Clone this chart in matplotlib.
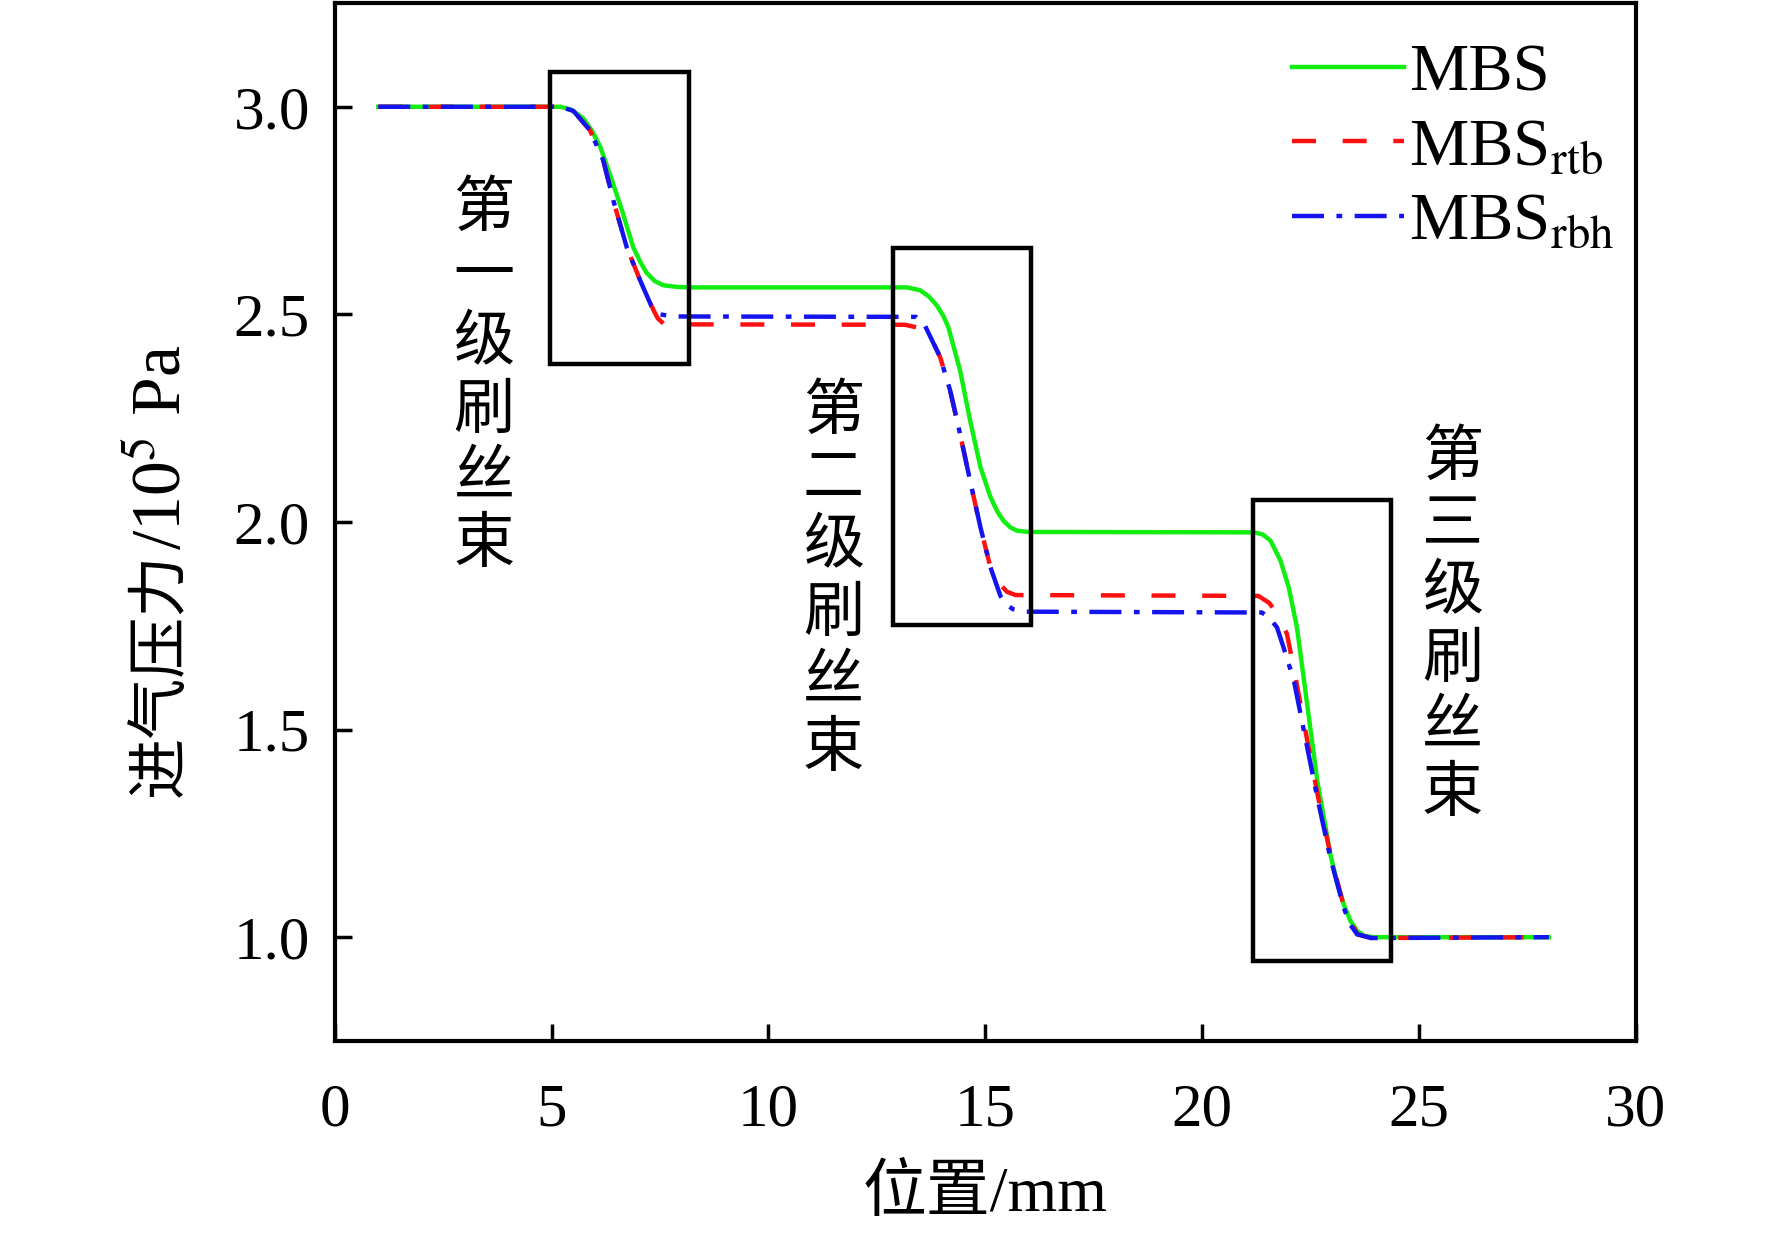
import matplotlib
matplotlib.use('Agg')
import matplotlib.pyplot as plt
from matplotlib.patches import Rectangle

plt.rcParams['font.family'] = ['Liberation Serif', 'Noto Sans CJK SC', 'DejaVu Serif']
plt.rcParams['mathtext.fontset'] = 'stix'

# MBS (green, solid)
mbs_x = [1.0, 5.2, 5.45, 5.73, 5.93, 6.12, 6.39, 6.62, 6.88, 7.05, 7.19, 7.38, 7.58, 7.9, 8.2,
         13.2, 13.5, 13.7, 13.88, 14.03, 14.15, 14.42, 14.65, 14.89, 15.12, 15.28, 15.42, 15.58, 15.73, 16.0,
         21.2, 21.4, 21.58, 21.81, 22.0, 22.19, 22.3, 22.66, 22.96, 23.12, 23.27, 23.42, 23.58, 23.75, 23.96, 28.0]
mbs_y = [3.0, 3.0, 2.993, 2.972, 2.942, 2.904, 2.823, 2.751, 2.662, 2.625, 2.600, 2.580, 2.570, 2.566, 2.565,
         2.565, 2.558, 2.543, 2.522, 2.497, 2.469, 2.365, 2.245, 2.132, 2.06, 2.025, 2.003, 1.987, 1.979, 1.976,
         1.975, 1.970, 1.955, 1.907, 1.843, 1.746, 1.66, 1.376, 1.20, 1.13, 1.079, 1.04, 1.015, 1.003, 1.0, 1.0]

# MBS_rtb (red, dashed)
rtb_x = [1.0, 5.2, 5.5, 5.88, 6.19, 6.42, 6.73, 7.04, 7.35, 7.45, 7.6,
         13.15, 13.45, 13.69, 13.96, 14.19, 14.42, 14.65, 14.89, 15.12, 15.3, 15.5, 15.7,
         21.3, 21.55, 21.77, 21.96, 22.15, 22.38, 22.68, 22.98, 23.28, 23.58, 23.9, 28.0]
rtb_y = [3.0, 3.0, 2.99, 2.944, 2.871, 2.775, 2.662, 2.582, 2.51, 2.49, 2.476,
         2.475, 2.468, 2.457, 2.397, 2.317, 2.212, 2.10, 1.987, 1.891, 1.855, 1.832, 1.824,
         1.822, 1.805, 1.774, 1.73, 1.63, 1.50, 1.336, 1.191, 1.071, 1.007, 0.998, 1.0]

# MBS_rbh (blue, dash-dot)
rbh_x = [1.0, 5.2, 5.5, 5.88, 6.19, 6.42, 6.73, 7.04, 7.3, 7.5, 7.8,
         13.4, 13.6, 13.96, 14.19, 14.42, 14.65, 14.89, 15.12, 15.35, 15.5, 15.64, 15.9,
         21.38, 21.55, 21.73, 21.88, 22.12, 22.35, 22.66, 22.96, 23.27, 23.42, 23.58, 23.9, 28.0]
rbh_y = [3.0, 3.0, 2.99, 2.944, 2.871, 2.775, 2.662, 2.582, 2.52, 2.50, 2.495,
         2.494, 2.475, 2.397, 2.317, 2.212, 2.10, 1.987, 1.891, 1.822, 1.80, 1.79, 1.784,
         1.782, 1.77, 1.746, 1.698, 1.618, 1.497, 1.336, 1.191, 1.071, 1.03, 1.007, 0.998, 1.0]

labels = ['MBS', r'MBS$_{\mathrm{rtb}}$', r'MBS$_{\mathrm{rbh}}$']
stage_texts = ['第一级刷丝束', '第二级刷丝束', '第三级刷丝束']
x_ticks = [0, 5, 10, 15, 20, 25, 30]
y_ticks = [1.0, 1.5, 2.0, 2.5, 3.0]

# boxes around each brush stage: (x0, y0, x1, y1)
boxes = [(4.96, 2.381, 8.16, 3.084), (12.88, 1.753, 16.06, 2.659), (21.17, 0.942, 24.37, 2.052)]
text_pos = [(3.44, 2.35), (11.5, 1.86), (25.78, 1.75)]

fig = plt.figure(figsize=(17.72, 12.34), dpi=100)
ax = fig.add_axes([0.189, 0.1564, 0.734, 0.8412])

lw = 3.2
ax.plot(mbs_x, mbs_y, color='#12ee12', lw=lw, ls='-', label=labels[0])
ax.plot(rtb_x, rtb_y, color='#ff1010', lw=lw, ls=(0, (5.4, 6.0)), label=labels[1])
ax.plot(rbh_x, rbh_y, color='#1414f0', lw=lw, ls=(0, (7.2, 2.8, 1.3, 2.8)), label=labels[2])

for x0, y0, x1, y1 in boxes:
    ax.add_patch(Rectangle((x0, y0), x1 - x0, y1 - y0, fill=False, ec='black', lw=3.2, zorder=5))

for (tx, ty), s in zip(text_pos, stage_texts):
    ax.text(tx, ty, '\n'.join(s), ha='center', va='center', fontsize=44,
            linespacing=1.1, family=['Noto Sans CJK SC'])

ax.set_xlim(0, 30)
ax.set_ylim(0.75, 3.25)
ax.set_xticks(x_ticks)
ax.set_yticks(y_ticks)
ax.set_yticklabels(['%.1f' % v for v in y_ticks])
ax.tick_params(direction='in', length=12, width=2.5, labelsize=44)
ax.tick_params(axis='x', pad=30)
ax.tick_params(axis='y', pad=18)
for sp in ax.spines.values():
    sp.set_linewidth(3)

fig.text(0.556, 0.031, '位置/mm', ha='center', va='center', fontsize=46)
# y label in two pieces so the latin part keeps the serif face and superscript
fig.text(0.0907, 0.552, '进气压力', ha='center', va='top', fontsize=44, rotation=90,
         family=['Noto Sans CJK SC'])
fig.text(0.0925, 0.554, r'/10$^5$ Pa', ha='center', va='bottom', fontsize=50, rotation=90)

leg = ax.legend(loc='upper left', bbox_to_anchor=(0.729, 0.965), bbox_transform=fig.transFigure,
                frameon=False, fontsize=48, handlelength=1.68, handletextpad=0.08,
                borderpad=0, borderaxespad=0, labelspacing=0.2)

fig.savefig('out.png', dpi=100)
